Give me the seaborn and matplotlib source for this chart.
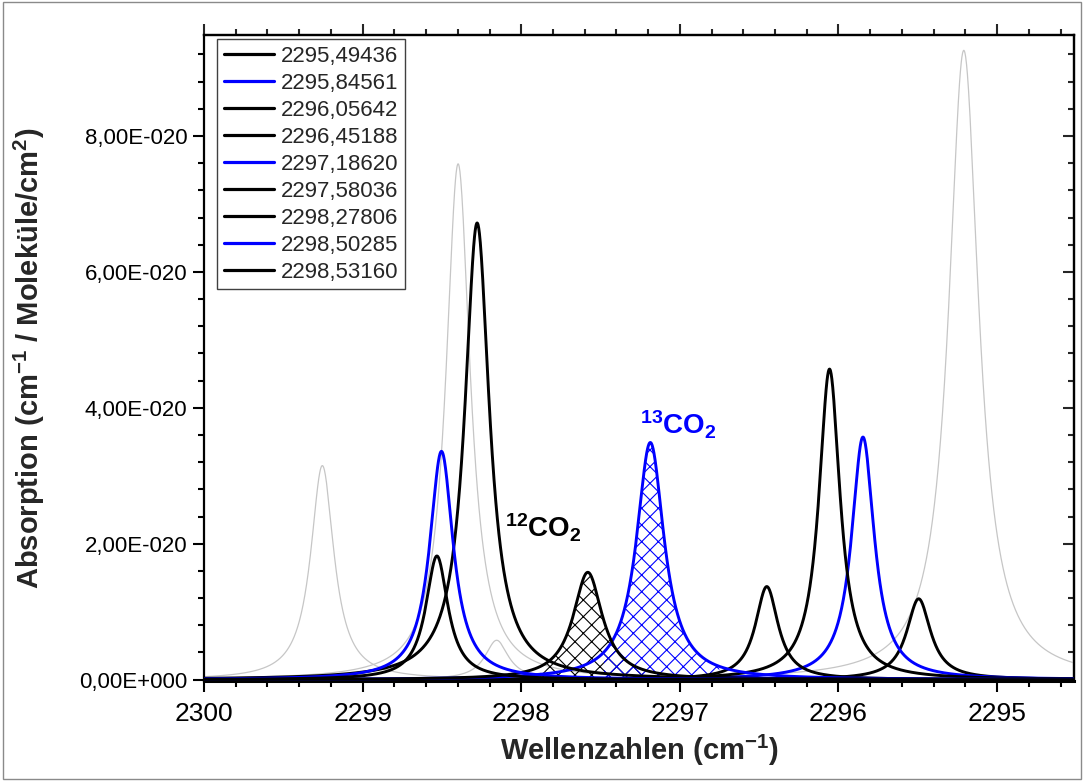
import numpy as np
import pandas as pd
import matplotlib
matplotlib.use("Agg")
import matplotlib.pyplot as plt
from matplotlib.ticker import MultipleLocator, FuncFormatter, NullFormatter, FixedLocator
from matplotlib.patches import Rectangle
from matplotlib import font_manager
import seaborn as sns

# ---------------- data ----------------
line_labels = ["2295,49436", "2295,84561", "2296,05642", "2296,45188", "2297,18620",
               "2297,58036", "2298,27806", "2298,50285", "2298,53160"]
line_centers = [2295.49436, 2295.84561, 2296.05642, 2296.45188, 2297.18620,
                2297.58036, 2298.27806, 2298.50285, 2298.53160]
line_heights = [1.19, 3.57, 4.57, 1.37, 3.49, 1.58, 6.72, 3.36, 1.82]   # x 1e-20
line_hwhm = [0.092, 0.087, 0.081, 0.087, 0.106, 0.112, 0.094, 0.090, 0.085]
line_colors = ["black", "blue", "black", "black", "blue", "black", "black", "blue", "black"]

gray_centers = [2299.254, 2298.398, 2298.155, 2295.210]
gray_heights = [3.15, 7.59, 0.58, 9.26]                                  # x 1e-20
gray_hwhm = [0.089, 0.093, 0.090, 0.115]

hatch_lines = ["2297,58036", "2297,18620"]
hatch_ranges = [(2297.23, 2297.88), (2296.75, 2297.48)]

annot_texts = [r"$\mathbf{^{12}CO_{2}}$", r"$\mathbf{^{13}CO_{2}}$"]
annot_x = [2297.863, 2297.011]
annot_y = [2.24, 3.75]
annot_colors = ["black", "blue"]

x_ticks = [2300, 2299, 2298, 2297, 2296, 2295]
y_ticks = [0, 2, 4, 6, 8]                                                # x 1e-20

x_min, x_max = 2294.515, 2300.0
y_min, y_max = -0.02, 9.485
SCALE = 1e-20

# ---------------- style ----------------
sns.set_style("ticks")
available = {f.name for f in font_manager.fontManager.ttflist}
main_font = "Liberation Sans" if "Liberation Sans" in available else "DejaVu Sans"
plt.rcParams["font.family"] = [main_font, "DejaVu Sans"]
plt.rcParams["mathtext.fontset"] = "custom"
plt.rcParams["mathtext.rm"] = main_font
plt.rcParams["mathtext.bf"] = main_font + ":bold"
plt.rcParams["mathtext.it"] = main_font + ":italic"
plt.rcParams["hatch.linewidth"] = 0.8

fig = plt.figure(figsize=(10.84, 7.81), dpi=100)
fig.patch.set_facecolor("white")
ax = fig.add_axes([0.1882, 0.128, 0.8026, 0.8271])
ax.set_facecolor("white")

grid = np.linspace(x_min - 0.05, x_max + 0.05, 4000)


def lorentz(c, h, w):
    return h * SCALE / (1.0 + ((grid - c) / w) ** 2)


# gray lines
for c, h, w in zip(gray_centers, gray_heights, gray_hwhm):
    df = pd.DataFrame({"x": grid, "y": lorentz(c, h, w)})
    sns.lineplot(data=df, x="x", y="y", color="#c6c6c6", lw=0.9, ax=ax,
                 legend=False, sort=False, estimator=None, zorder=2)

# hatched areas
for lab, (lo, hi) in zip(hatch_lines, hatch_ranges):
    i = line_labels.index(lab)
    yv = lorentz(line_centers[i], line_heights[i], line_hwhm[i])
    mask = (grid >= lo) & (grid <= hi)
    ax.fill_between(grid[mask], 0, yv[mask], facecolor="none",
                    edgecolor=line_colors[i], hatch="xx", lw=0, zorder=3)

# main lines
for lab, c, h, w, col in zip(line_labels, line_centers, line_heights, line_hwhm, line_colors):
    df = pd.DataFrame({"x": grid, "y": lorentz(c, h, w)})
    sns.lineplot(data=df, x="x", y="y", color=col, lw=2.1, ax=ax,
                 label=lab, sort=False, estimator=None, zorder=4)

for t, xx, yy, col in zip(annot_texts, annot_x, annot_y, annot_colors):
    ax.text(xx, yy * SCALE, t, color=col, fontsize=20, ha="center", va="center", zorder=6)

ax.set_xlim(x_max, x_min)
ax.set_ylim(y_min * SCALE, y_max * SCALE)

ax.xaxis.set_major_locator(FixedLocator(x_ticks))
ax.xaxis.set_minor_locator(MultipleLocator(0.2))
ax.yaxis.set_major_locator(FixedLocator([v * SCALE for v in y_ticks]))
ax.yaxis.set_minor_locator(MultipleLocator(0.4 * SCALE))


def yfmt(v, pos):
    if abs(v) < 1e-30:
        return "0,00E+000"
    e = int(np.floor(np.log10(abs(v))))
    m = v / 10 ** e
    return f"{m:.2f}".replace(".", ",") + f"E{'-' if e < 0 else '+'}{abs(e):03d}"


ax.yaxis.set_major_formatter(FuncFormatter(yfmt))
ax.xaxis.set_major_formatter(FuncFormatter(lambda v, p: f"{v:.0f}"))

ax.tick_params(axis="both", which="major", direction="out", length=8, width=1.5,
               labelsize=16, color="black", labelcolor="black")
ax.tick_params(axis="both", which="minor", direction="out", length=4.5, width=1.5, color="black")
ax.tick_params(axis="x", pad=7, labelsize=19)
ax.tick_params(axis="y", pad=4)
for s in ax.spines.values():
    s.set_linewidth(1.6)
    s.set_color("black")
    s.set_visible(True)
ax.spines["bottom"].set_linewidth(2.2)

# top and right axes (top outward, right inward)
secx = ax.secondary_xaxis("top")
secx.xaxis.set_major_locator(FixedLocator(x_ticks))
secx.xaxis.set_minor_locator(MultipleLocator(0.2))
secx.xaxis.set_major_formatter(NullFormatter())
secx.tick_params(axis="x", which="major", direction="out", length=8, width=1.5, labeltop=False)
secx.tick_params(axis="x", which="minor", direction="out", length=4.5, width=1.5)
secx.xaxis.get_offset_text().set_visible(False)
secx.spines["top"].set_linewidth(1.6)
secy = ax.secondary_yaxis("right")
secy.yaxis.set_major_locator(FixedLocator([v * SCALE for v in y_ticks]))
secy.yaxis.set_minor_locator(MultipleLocator(0.4 * SCALE))
secy.yaxis.set_major_formatter(NullFormatter())
secy.tick_params(axis="y", which="major", direction="in", length=8, width=1.5, labelright=False)
secy.tick_params(axis="y", which="minor", direction="in", length=4.5, width=1.5)
secy.yaxis.get_offset_text().set_visible(False)
secy.spines["right"].set_linewidth(1.6)

ax.set_xlabel(r"Wellenzahlen (cm$^{\mathbf{-1}}$)", fontsize=21, fontweight="bold", labelpad=5)
ax.set_ylabel(r"Absorption (cm$^{\mathbf{-1}}$ / Moleküle/cm$^{\mathbf{2}}$)", fontsize=21,
              fontweight="bold", labelpad=23)

leg = ax.legend(loc="upper left", bbox_to_anchor=(0.015, 0.994), fontsize=16,
                frameon=True, fancybox=False, framealpha=1, edgecolor="#404040",
                handlelength=2.25, handletextpad=0.3, labelspacing=0.27,
                borderpad=0.3, borderaxespad=0.0)
leg.get_frame().set_linewidth(1.0)
for lh in leg.get_lines():
    lh.set_linewidth(2.3)
leg.set_zorder(10)

fig.patches.append(Rectangle((0.003, 0.003), 0.994, 0.994, transform=fig.transFigure,
                             fill=False, edgecolor="#8a8a8a", lw=1.0))

fig.savefig("out.png", dpi=100, facecolor="white")
